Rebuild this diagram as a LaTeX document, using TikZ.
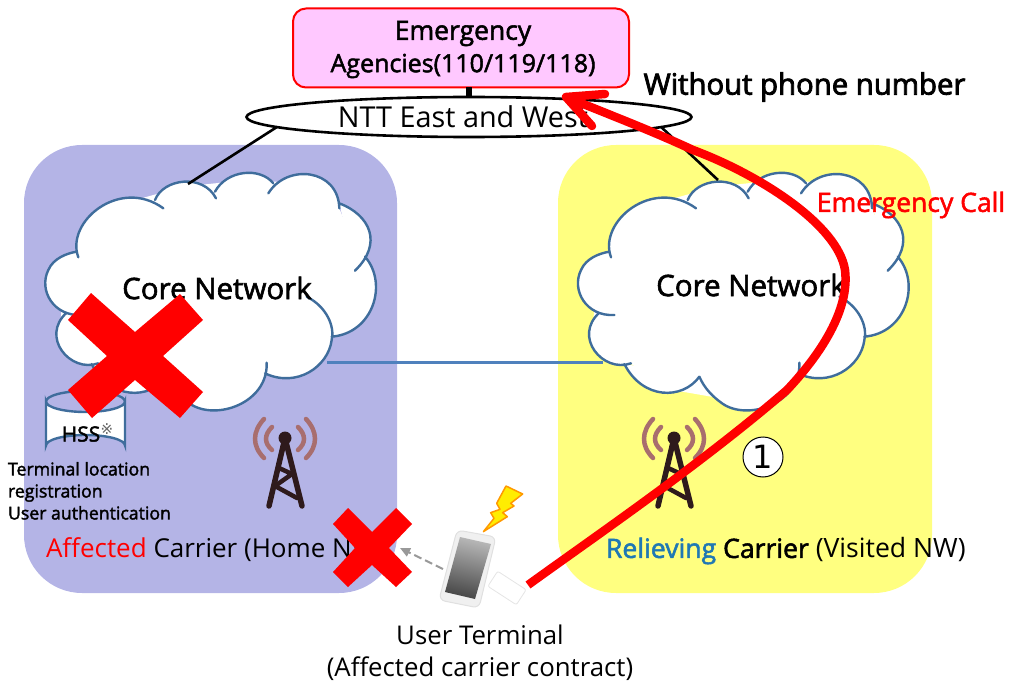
\documentclass[tikz,border=0pt]{standalone}
\usepackage{fontspec}
\setmainfont{Open Sans}
\newfontfamily\semi[RawFeature={embolden=2.0}]{Open Sans}
\newfontfamily\heavy[RawFeature={embolden=2.8}]{Open Sans}
\newfontfamily\symb{DejaVu Sans}
\usetikzlibrary{shapes.geometric,arrows.meta}
\definecolor{lpanel}{HTML}{B4B4E6}
\definecolor{rpanel}{HTML}{FFFF80}
\definecolor{cloudblue}{HTML}{3F6D9C}
\definecolor{linkblue}{HTML}{4F81BD}
\definecolor{agencypink}{HTML}{FFC8FF}
\definecolor{towerdark}{HTML}{2E1A1C}
\definecolor{towerwave}{HTML}{A86E6E}
\definecolor{relblue}{HTML}{1F78B4}
\definecolor{callred}{HTML}{FF0000}
\tikzset{
  panel/.style={rounded corners=58pt,minimum width=#1,minimum height=448pt,outer sep=0pt,inner sep=0pt},
  cloudline/.style={draw=cloudblue,line width=2.4pt,line cap=round},
  netlink/.style={draw=black,line width=2.6pt},
  txt/.style={inner sep=0pt,outer sep=0pt,text=black},
  bigx/.style={fill=callred},
  callpath/.style={draw=callred,line width=8.5pt,line join=round},
  waves/.style={draw=towerwave,line width=4.5pt,line cap=round},
  mast/.style={draw=towerdark,line width=5.5pt,line cap=round,line join=round},
}
\newcommand\cloudarcs{
  (145,322) .. controls (105,215) and (270,80) .. (400,175)
  (375,150) .. controls (400,85) and (520,70) .. (558,145)
  (555,125) .. controls (590,60) and (690,50) .. (730,100)
  (715,130) .. controls (770,40) and (925,55) .. (928,175)
  (928,160) .. controls (1020,195) and (1060,280) .. (975,362)
  (1005,320) .. controls (1075,400) and (1030,550) .. (905,560)
  (830,440) .. controls (890,470) and (915,530) .. (905,570) .. controls (895,650) and (800,715) .. (705,670)
  (710,638) .. controls (715,760) and (555,815) .. (478,760) .. controls (450,740) and (425,715) .. (410,680)
  (410,680) .. controls (360,750) and (240,750) .. (185,642)
  (205,640) .. controls (120,670) and (30,560) .. (110,488)
  (155,495) .. controls (70,500) and (25,420) .. (55,360) .. controls (70,325) and (110,310) .. (140,305)
}
\newcommand\cloudshape[2]{%
  \begin{scope}[shift={(#1,#2)},x=0.33333pt,y=-0.33333pt]
    \fill[white] (100,400) -- (160,270) -- (280,160) -- (460,110) -- (650,90) -- (820,100) -- (925,168) -- (950,230) -- (1010,400) -- (950,530) -- (890,560) -- (860,640) -- (760,670) -- (705,650) -- (640,720) -- (560,760) -- (330,720) -- (170,620) -- (90,540) -- cycle;
    \fill[white] \cloudarcs;
    \draw[cloudline] \cloudarcs;
  \end{scope}}
\newcommand\towershape[2]{%
  \begin{scope}[shift={(#1,#2)}]
    \draw[waves] (-21,-19) .. controls (-33,-6) and (-33,8) .. (-21,20);
    \draw[waves] (21,-19) .. controls (33,-6) and (33,8) .. (21,20);
    \draw[waves] (-13,-11) .. controls (-21,-3) and (-21,5) .. (-13,12);
    \draw[waves] (13,-11) .. controls (21,-3) and (21,5) .. (13,12);
    \draw[mast] (-16,68) -- (0,0) -- (17,68);
    \draw[mast,line width=4.5pt] (-6,30) -- (7,36) -- (-10,48) -- (12,60);
    \fill[towerdark] (0,0) circle (6.5);
  \end{scope}}
\begin{document}
\begin{tikzpicture}[x=1pt,y=-1pt]
\useasboundingbox (0,0) rectangle (1010,682);
\node[panel=373pt,fill=lpanel] (lp) at (210.5,369) {};
\node[panel=374pt,fill=rpanel] (rp) at (745,369) {};
% clouds
\cloudshape{30}{150}
\cloudshape{562.7}{150}
\coordinate (ltop) at (188,184);
\coordinate (rtop) at (718,180);
\coordinate (lcloudside) at (327,362);
\coordinate (rcloudside) at (603,362);
\draw[draw=linkblue,line width=3pt] (lcloudside) -- (rcloudside);
% top
\node[draw=callred,fill=agencypink,line width=2pt,rounded corners=13pt,minimum width=336pt,minimum height=79pt,outer sep=0pt] (agency) at (461,48) {};
\node[ellipse,draw=black,fill=white,line width=2.6pt,minimum width=445pt,minimum height=40pt,outer sep=0pt,inner sep=0pt] (ntt) at (469,117) {};
\draw[draw=black,line width=6pt] (agency.south -| ntt.north) -- (ntt.north);
\draw[netlink] (ntt.183.3) -- (ltop);
\draw[netlink] (ntt.-3) -- (rtop);
\node[txt,font=\semi\fontsize{26.5}{30}\selectfont] (t1) at (463,33.5) {Emergency};
\node[txt,font=\semi\fontsize{25}{30}\selectfont] (t2) at (463,66) {Agencies(110/119/118)};
\node[txt,font=\fontsize{28.8}{32}\selectfont] (t3) at (463,117) {NTT East and West};
\node[txt,font=\heavy\fontsize{29.3}{32}\selectfont] (t4) at (804.5,87) {Without phone number};
% cloud labels
\node[txt,font=\semi\fontsize{29.5}{32}\selectfont] (cl) at (217,288) {Core Network};
\node[txt,font=\semi\fontsize{29.5}{32}\selectfont] (cr) at (751,285) {Core Network};
% towers
\towershape{285}{438}
\towershape{674}{438}
% HSS
\fill[white,draw=cloudblue,line width=2.4pt] (46,401.5) -- (46,445.5) arc[start angle=180,end angle=360,x radius=39.5,y radius=10.5] -- (125,401.5) arc[start angle=0,end angle=180,x radius=39.5,y radius=10.5] -- cycle;
\draw[draw=cloudblue,line width=2.4pt] (46,401.5) arc[start angle=180,end angle=360,x radius=39.5,y radius=10.5];
\node[txt,font=\semi\fontsize{21}{24}\selectfont] (hss) at (81,434) {HSS};
\node[txt,text=black!60,font=\symb\fontsize{15}{16}\selectfont] (hssn) at (107,429) {※};
% small labels
\node[txt,font=\semi\fontsize{17.7}{22}\selectfont,anchor=north west,align=left] (hssl) at (8,462) {Terminal location\\registration\\User authentication};
% carrier labels
\node[txt,font=\fontsize{26}{28}\selectfont,anchor=west] (al) at (46,550) {\textcolor{callred}{Affected} Carrier (Home NW)};
\node[txt,font=\fontsize{26.6}{28}\selectfont,anchor=west] (rl) at (606,551) {{\semi\textcolor{relblue}{Relieving} Carrier} (Visited NW)};
\node[txt,font=\fontsize{25.8}{32}\selectfont,align=center] (ut) at (480,653) {User Terminal\\(Affected carrier contract)};
% terminal
\fill[fill=black!6,draw=black!12,line width=1pt,rounded corners=6pt] (457,530) -- (496,537) -- (479,608) -- (439,600) -- cycle;
\shade[top color=black!28,bottom color=black!72,shading angle=-13] (460,537) -- (491,544) -- (475,599) -- (445,592) -- cycle;
\node[draw=black!10,fill=white,line width=0.8pt,rotate=-33,minimum width=34pt,minimum height=18pt,rounded corners=2pt,inner sep=0pt] (card) at (507,588) {};
\filldraw[fill=yellow!95!orange,draw=orange!80!yellow,line width=1.5pt,line join=round,shift={(420,470)},x=0.33333pt,y=-0.33333pt]
  (258,48) -- (308,72) -- (272,100) -- (282,108) -- (248,128) -- (262,140) -- (190,185) -- (222,145) -- (212,128) -- (240,118) -- (230,100) -- cycle;
\coordinate (phoneleft) at (443,569);
\coordinate (homeend) at (400,548);
\draw[draw=black!40,line width=2pt,dash pattern=on 8pt off 4pt,-{Triangle[length=10pt,width=9pt]}] (phoneleft) -- (homeend);
% big crosses
\fill[bigx] (91,293) -- (135,332) -- (180,294) -- (203,320) -- (163,356) -- (203,392) -- (180,418) -- (135,380) -- (92,418) -- (68,390) -- (107,356) -- (68,320) -- cycle;
\fill[bigx] (348,508) -- (372,532) -- (396,508) -- (412,524) -- (389,548) -- (412,572) -- (396,587) -- (372,565) -- (348,587) -- (333,572) -- (355,548) -- (333,524) -- cycle;
% call
\node[circle,draw=black,fill=white,line width=1pt,minimum size=40pt,inner sep=0pt,font=\symb\fontsize{32}{32}\selectfont] (one) at (763,457) {1};
\coordinate (callstart) at (528,585);
\coordinate (calltip) at (566,97);
\draw[callpath] (callstart) .. controls (590,540) and (700,465) .. (787,390) .. controls (820,355) and (850,310) .. (845,270) .. controls (838,225) and (760,175) .. (693,150) .. controls (650,130) and (610,115) .. (calltip);
\draw[callpath,line cap=round] (605,94) -- (calltip) -- (592,126);
\node[txt,text=callred,font=\semi\fontsize{26.5}{26}\selectfont] (ec) at (911,205) {Emergency Call};
\end{tikzpicture}
\end{document}
